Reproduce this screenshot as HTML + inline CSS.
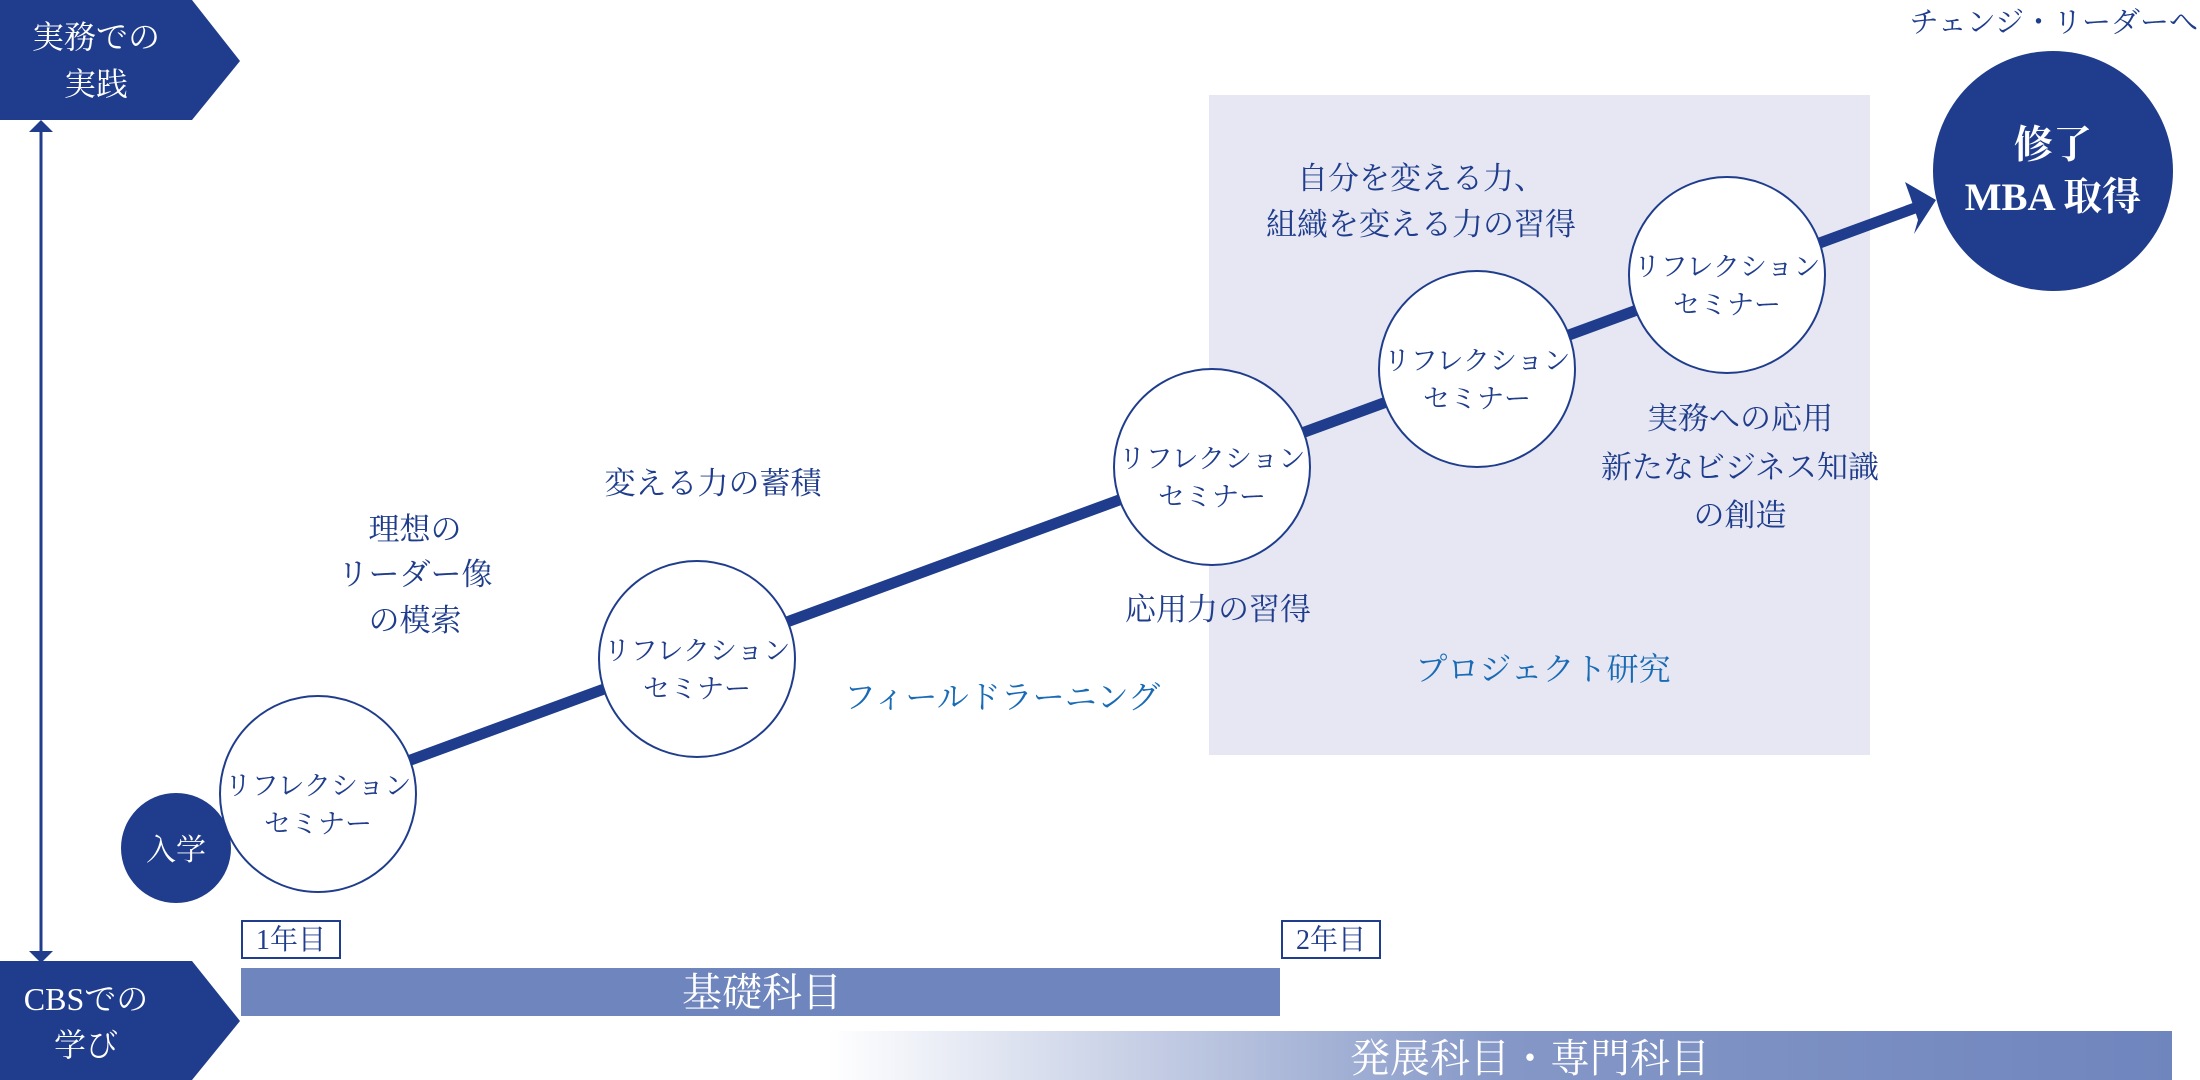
<!DOCTYPE html>
<html><head><meta charset="utf-8"><style>
html,body{margin:0;padding:0;background:#fff;}
svg{display:block}
text{font-family:"Liberation Serif","Noto Serif CJK SC",serif;}
</style></head><body>
<svg width="2200" height="1080" viewBox="0 0 2200 1080" xmlns="http://www.w3.org/2000/svg">
<defs>
<linearGradient id="g" x1="0" x2="1" y1="0" y2="0">
<stop offset="0" stop-color="#6f85bd" stop-opacity="0"/>
<stop offset="0.5" stop-color="#6f85bd" stop-opacity="0.85"/>
<stop offset="1" stop-color="#6f85bd"/>
</linearGradient>
</defs>
<rect x="1209" y="95" width="661" height="660" fill="#e6e7f2"/>
<polygon points="0,0 192,0 240,61 192,120 0,120" fill="#1f3d8c"/>
<text x="96" y="48" font-size="32" fill="#fff" text-anchor="middle">実務での</text>
<text x="96" y="95" font-size="32" fill="#fff" text-anchor="middle">実践</text>
<polygon points="0,961 192,961 240,1021 192,1080 0,1080" fill="#1f3d8c"/>
<text x="86" y="1010" font-size="32" fill="#fff" text-anchor="middle">CBSでの</text>
<text x="86" y="1056" font-size="32" fill="#fff" text-anchor="middle">学び</text>
<line x1="41" y1="128" x2="41" y2="955" stroke="#1f3d8c" stroke-width="3"/>
<polygon points="29,132 41,120 53,132" fill="#1f3d8c"/>
<polygon points="29,951 41,963 53,951" fill="#1f3d8c"/>
<line x1="318" y1="794" x2="1915" y2="208" stroke="#1f3d8c" stroke-width="11"/>
<polygon points="1936,200 1905,182 1910,196 1918,220 1914,234" fill="#1f3d8c"/>
<circle cx="176" cy="848" r="55" fill="#1f3d8c"/>
<text x="176" y="860" font-size="30" fill="#fff" text-anchor="middle">入学</text>
<g fill="#fff" stroke="#1f3d8c" stroke-width="2">
<circle cx="318" cy="794" r="98"/>
<circle cx="697" cy="659" r="98"/>
<circle cx="1212" cy="467" r="98"/>
<circle cx="1477" cy="369" r="98"/>
<circle cx="1727" cy="275" r="98"/>
</g>
<g font-size="27" fill="#1f3d8c" text-anchor="middle">
<text x="318" y="795">リフレクション</text><text x="318" y="833">セミナー</text>
<text x="697" y="660">リフレクション</text><text x="697" y="698">セミナー</text>
<text x="1212" y="468">リフレクション</text><text x="1212" y="506">セミナー</text>
<text x="1477" y="370">リフレクション</text><text x="1477" y="408">セミナー</text>
<text x="1727" y="276">リフレクション</text><text x="1727" y="314">セミナー</text>
</g>
<circle cx="2053" cy="171" r="120" fill="#1f3d8c"/>
<text x="2053" y="158" font-size="39" font-weight="bold" fill="#fff" text-anchor="middle">修了</text>
<text x="2053" y="210" font-size="39" font-weight="bold" fill="#fff" text-anchor="middle">MBA 取得</text>
<text x="2198" y="32" font-size="29" fill="#1f3d8c" text-anchor="end">チェンジ・リーダーへ</text>
<g font-size="31" fill="#1f3d8c" text-anchor="middle">
<text x="1421" y="189">自分を変える力、</text>
<text x="1421" y="235">組織を変える力の習得</text>
<text x="713" y="494">変える力の蓄積</text>
<text x="415" y="540">理想の</text>
<text x="415" y="585">リーダー像</text>
<text x="415" y="631">の模索</text>
<text x="1218" y="620">応用力の習得</text>
<text x="1740" y="429">実務への応用</text>
<text x="1740" y="478">新たなビジネス知識</text>
<text x="1740" y="526">の創造</text>
</g>
<g font-size="32" fill="#1a6bb5" text-anchor="middle">
<text x="1002" y="708">フィールドラーニング</text>
<text x="1543" y="680">プロジェクト研究</text>
</g>
<rect x="242" y="921" width="98" height="37" fill="#fff" stroke="#1f3d8c" stroke-width="2"/>
<text x="291" y="949" font-size="28" fill="#1f3d8c" text-anchor="middle">1年目</text>
<rect x="1282" y="921" width="98" height="37" fill="#fff" stroke="#1f3d8c" stroke-width="2"/>
<text x="1331" y="949" font-size="28" fill="#1f3d8c" text-anchor="middle">2年目</text>
<rect x="241" y="968" width="1039" height="48" fill="#6f85bd"/>
<text x="762" y="1006" font-size="40" fill="#fff" text-anchor="middle">基礎科目</text>
<rect x="828" y="1031" width="1344" height="49" fill="url(#g)"/>
<text x="1530" y="1072" font-size="40" fill="#fff" text-anchor="middle">発展科目・専門科目</text>
</svg>
</body></html>
